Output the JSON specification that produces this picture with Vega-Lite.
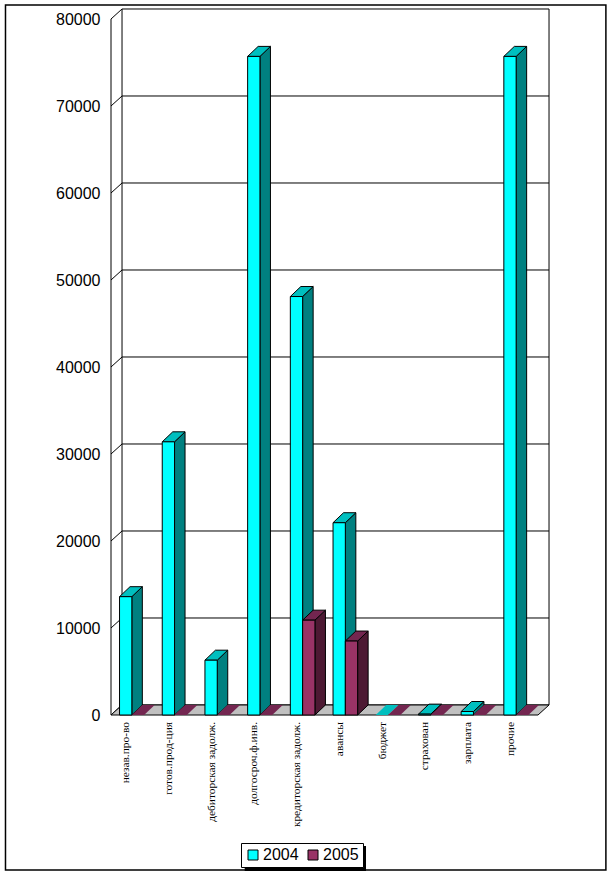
{
"$schema":"https://vega.github.io/schema/vega-lite/v6.json",
"width":427,"height":696,"autosize":{"type":"none"},
"padding":{"left":111,"top":19,"right":74,"bottom":160},
"background":"white",
"config":{"view":{"stroke":null},"font":"Liberation Sans"},
"data":{"values":[
{"cat":"незав.про-во","year":"2004","value":13600},{"cat":"незав.про-во","year":"2005","value":0},
{"cat":"готов.прод-ция","year":"2004","value":31400},{"cat":"готов.прод-ция","year":"2005","value":0},
{"cat":"дебиторская задолж.","year":"2004","value":6300},{"cat":"дебиторская задолж.","year":"2005","value":0},
{"cat":"долгосроч.ф.инв.","year":"2004","value":75700},{"cat":"долгосроч.ф.инв.","year":"2005","value":0},
{"cat":"кредиторская задолж.","year":"2004","value":48100},{"cat":"кредиторская задолж.","year":"2005","value":10900},
{"cat":"авансы","year":"2004","value":22100},{"cat":"авансы","year":"2005","value":8500},
{"cat":"бюджет","year":"2004","value":0},{"cat":"бюджет","year":"2005","value":0},
{"cat":"страхован","year":"2004","value":100},{"cat":"страхован","year":"2005","value":0},
{"cat":"зарплата","year":"2004","value":400},{"cat":"зарплата","year":"2005","value":0},
{"cat":"прочие","year":"2004","value":75700},{"cat":"прочие","year":"2005","value":0}
]},
"transform":[
{"window":[{"op":"row_number","as":"n"}],"groupby":["year"]},
{"calculate":"datum.n-1+0.2+(datum.year==='2005'?0.288:0)","as":"xl"},
{"calculate":"datum.xl+0.288","as":"xr"},
{"calculate":"datum.cat+datum.year","as":"bar"}
],
"layer":[
{"data":{"values":[{}]},"mark":{"type":"rect","fill":null,"stroke":"black","strokeWidth":1.5},
 "encoding":{"x":{"datum":-2.471,"type":"quantitative","scale":{"domain":[0,10]},"axis":null},"x2":{"datum":11.59},
 "y":{"datum":81609,"type":"quantitative","title":null,"scale":{"domain":[0,80000],"nice":false,"zero":false},
  "axis":{"values":[0,10000,20000,30000,40000,50000,60000,70000,80000],"format":"d","domain":false,"ticks":false,"grid":false,"title":null,"labelFontSize":16,"labelFont":"Liberation Sans","labelColor":"black","labelPadding":11}},
 "y2":{"datum":-17816}}},
{"data":{"values":[{"v":0},{"v":10000},{"v":20000},{"v":30000},{"v":40000},{"v":50000},{"v":60000},{"v":70000},{"v":80000}]},
 "transform":[{"calculate":"datum.v+1150","as":"vb"}],
 "mark":{"type":"rule","stroke":"black","strokeWidth":1},
 "encoding":{"x":{"datum":0.258,"type":"quantitative","scale":{"domain":[0,10]},"axis":null},"x2":{"datum":10.258},
 "y":{"field":"vb","type":"quantitative","title":null,"scale":{"domain":[0,80000],"nice":false,"zero":false}}}},
{"data":{"values":[{"v":0},{"v":10000},{"v":20000},{"v":30000},{"v":40000},{"v":50000},{"v":60000},{"v":70000},{"v":80000}]},
 "transform":[{"calculate":"0","as":"a"},{"calculate":"1","as":"b"},{"fold":["a","b"],"as":["k","t"]},{"calculate":"datum.t*0.258","as":"wx"},{"calculate":"datum.v+datum.t*1150","as":"wy"}],
 "mark":{"type":"line","stroke":"black","strokeWidth":1},
 "encoding":{"x":{"field":"wx","type":"quantitative","scale":{"domain":[0,10]},"axis":null},
 "y":{"field":"wy","type":"quantitative","title":null,"scale":{"domain":[0,80000],"nice":false,"zero":false}},"detail":{"field":"v"}}},
{"data":{"values":[{"w":0,"lo":0,"hi":80000},{"w":0.258,"lo":1150,"hi":81150},{"w":10.258,"lo":1150,"hi":81150}]},
 "mark":{"type":"rule","stroke":"black","strokeWidth":1},
 "encoding":{"x":{"field":"w","type":"quantitative","scale":{"domain":[0,10]},"axis":null},
 "y":{"field":"lo","type":"quantitative","title":null,"scale":{"domain":[0,80000],"nice":false,"zero":false}},"y2":{"field":"hi"}}},
{"data":{"values":[{"t":0},{"t":1}]},
 "transform":[{"calculate":"datum.t*0.258","as":"fa"},{"calculate":"10+datum.t*0.258","as":"fb"},{"calculate":"datum.t*1150","as":"fy"}],
 "mark":{"type":"area","orient":"horizontal","fill":"#C0C0C0","stroke":"black","strokeWidth":1},
 "encoding":{"y":{"field":"fy","type":"quantitative","title":null,"scale":{"domain":[0,80000],"nice":false,"zero":false}},
 "x":{"field":"fa","type":"quantitative","scale":{"domain":[0,10]},"axis":null},"x2":{"field":"fb"}}},
{"transform":[{"filter":"datum.value>0"},{"calculate":"0","as":"a"},{"calculate":"1","as":"b"},{"fold":["a","b"],"as":["k","t"]},
 {"calculate":"datum.xr+datum.t*0.246","as":"sx"},{"calculate":"datum.t*1150","as":"s0"},{"calculate":"datum.value+datum.t*1150","as":"s1"}],
 "mark":{"type":"area","orient":"vertical","stroke":"black","strokeWidth":1},
 "encoding":{"x":{"field":"sx","type":"quantitative","scale":{"domain":[0,10]},"axis":null},
 "y":{"field":"s1","type":"quantitative","title":null,"scale":{"domain":[0,80000],"nice":false,"zero":false}},"y2":{"field":"s0"},
 "detail":{"field":"bar"},
 "fill":{"condition":{"test":"datum.year==='2004'","value":"#008080"},"value":"#4D1933"}}},
{"transform":[{"calculate":"0","as":"a"},{"calculate":"1","as":"b"},{"fold":["a","b"],"as":["k","t"]},
 {"calculate":"datum.xl+datum.t*0.246","as":"t0"},{"calculate":"datum.xr+datum.t*0.246","as":"t1"},{"calculate":"datum.value+datum.t*1150","as":"ty"}],
 "mark":{"type":"area","orient":"horizontal"},
 "encoding":{"y":{"field":"ty","type":"quantitative","title":null,"scale":{"domain":[0,80000],"nice":false,"zero":false}},
 "x":{"field":"t0","type":"quantitative","scale":{"domain":[0,10]},"axis":null},"x2":{"field":"t1"},
 "detail":{"field":"bar"},
 "fill":{"condition":{"test":"datum.year==='2004'","value":"#00BFBF"},"value":"#732650"},
 "stroke":{"condition":{"test":"datum.value>0","value":"black"},"value":null}}},
{"transform":[{"filter":"datum.value>0"}],
 "mark":{"type":"rect","stroke":"black","strokeWidth":1},
 "encoding":{"x":{"field":"xl","type":"quantitative","scale":{"domain":[0,10]},"axis":null},"x2":{"field":"xr"},
 "y":{"field":"value","type":"quantitative","title":null,"scale":{"domain":[0,80000],"nice":false,"zero":false}},"y2":{"datum":0},
 "fill":{"field":"year","type":"nominal","scale":{"domain":["2004","2005"],"range":["#00FFFF","#993366"]},
  "legend":{"title":null,"orient":"none","legendX":130,"legendY":824,"direction":"horizontal","columns":2,"symbolType":"square","symbolSize":100,"symbolStrokeColor":"black","symbolStrokeWidth":1,"labelFontSize":16,"labelFont":"Liberation Sans","labelColor":"black","fillColor":"white","strokeColor":"black","padding":4,"columnPadding":6,"labelOffset":2}}}},
{"data":{"values":[{}]},"mark":{"type":"rect","fill":"black"},
 "encoding":{"x":{"datum":3.131,"type":"quantitative","scale":{"domain":[0,10]},"axis":null},"x2":{"datum":5.972},
 "y":{"datum":-15057,"type":"quantitative","title":null,"scale":{"domain":[0,80000],"nice":false,"zero":false}},"y2":{"datum":-17931}}},
{"transform":[{"filter":"datum.year==='2004'"},{"calculate":"datum.n-1+0.36","as":"lx"}],
 "mark":{"type":"text","angle":270,"align":"right","baseline":"middle","font":"Liberation Serif","fontSize":11.4,"color":"black","yOffset":7},
 "encoding":{"x":{"field":"lx","type":"quantitative","scale":{"domain":[0,10]},"axis":null},
 "y":{"datum":0,"type":"quantitative","title":null,"scale":{"domain":[0,80000],"nice":false,"zero":false}},
 "text":{"field":"cat"}}}
]}
